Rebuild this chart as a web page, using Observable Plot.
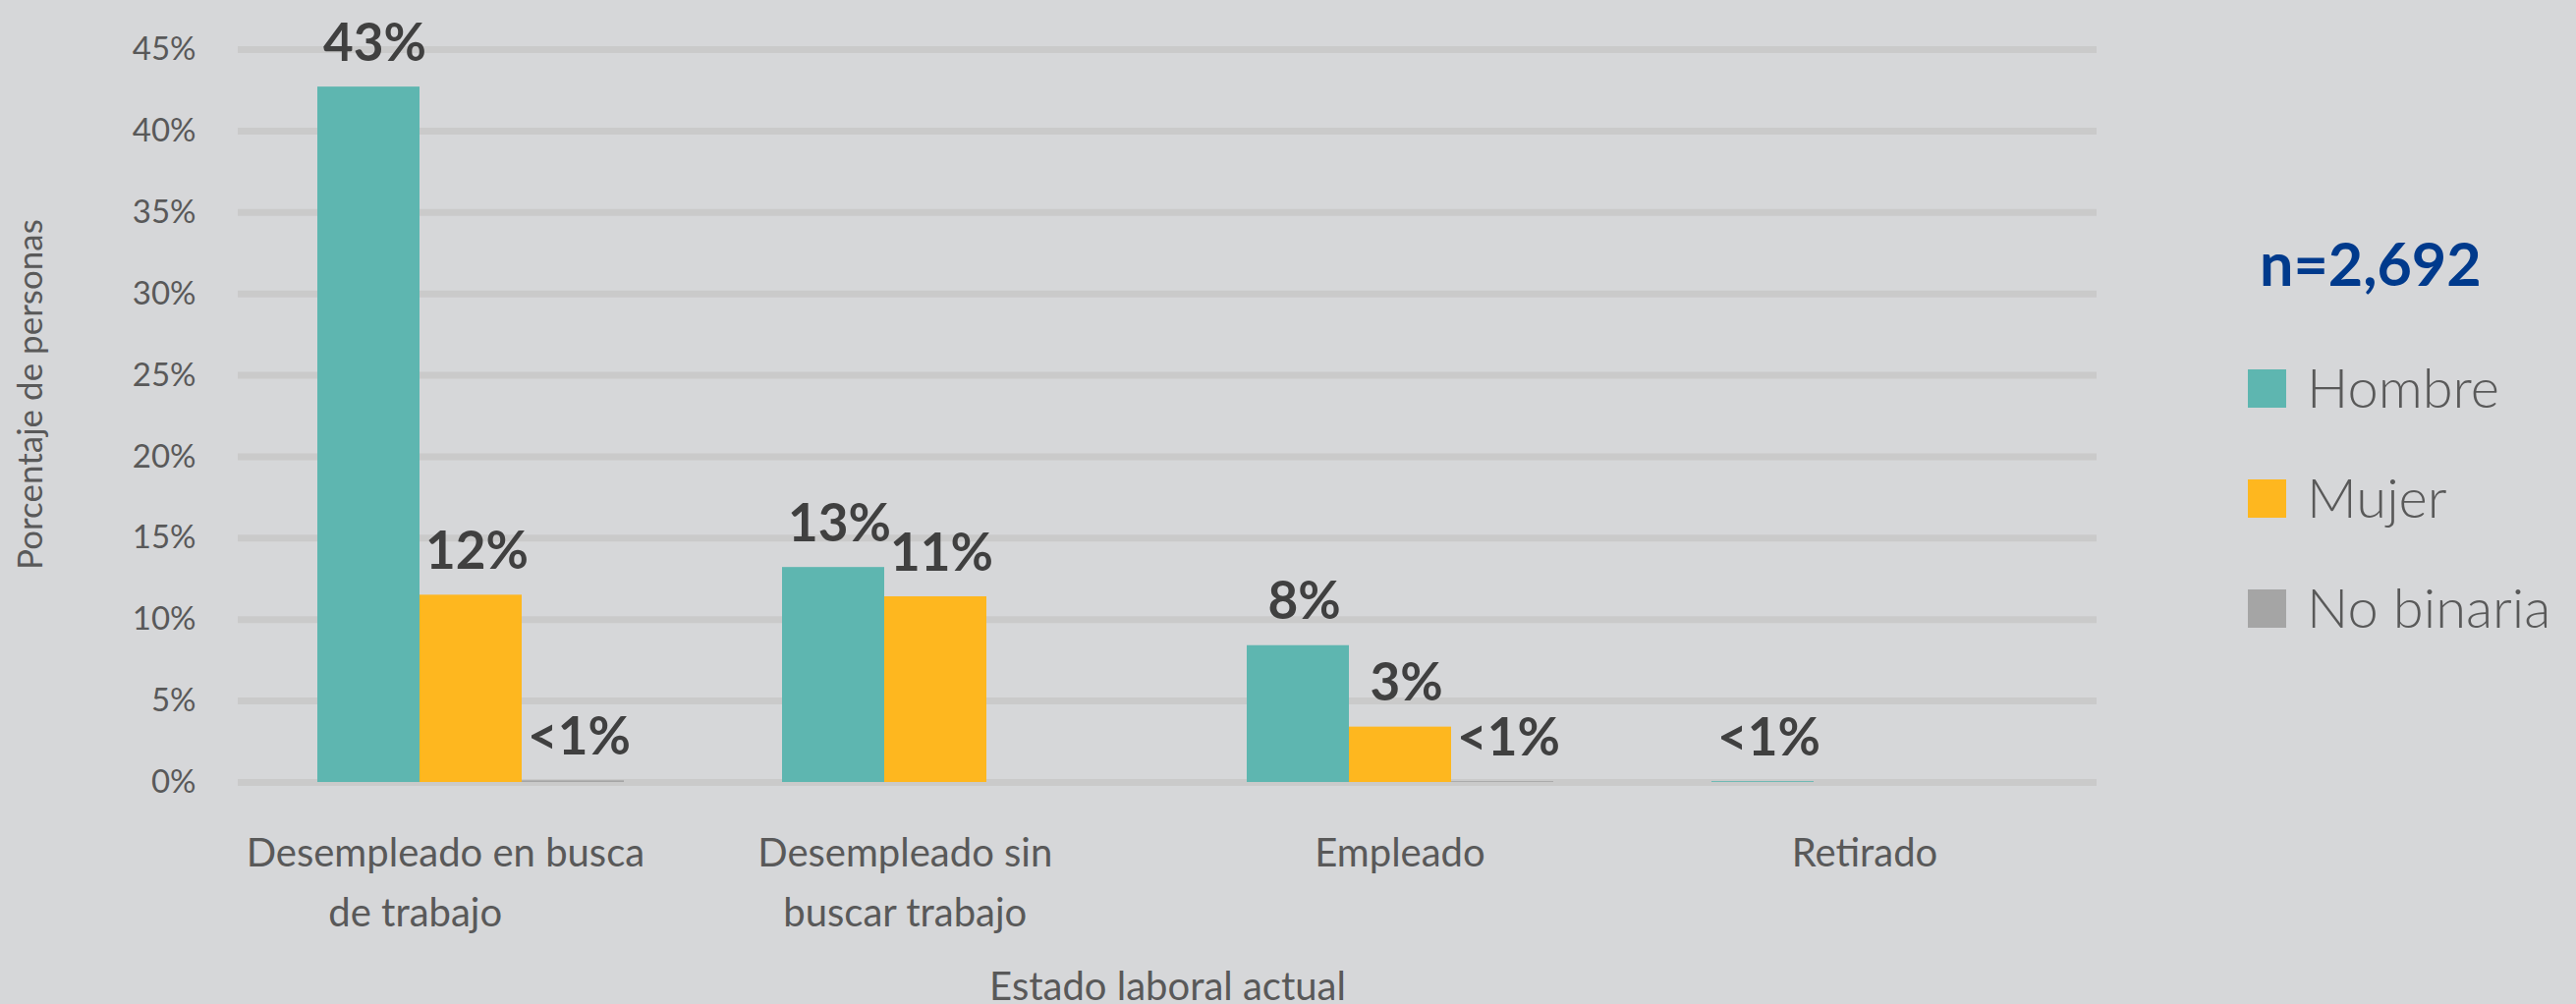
<!DOCTYPE html>
<html>
<head>
<meta charset="utf-8">
<script src="https://cdn.jsdelivr.net/npm/d3@7"></script>
<script src="https://cdn.jsdelivr.net/npm/@observablehq/plot@0.6"></script>
<style>
  html, body { margin: 0; padding: 0; background: #d6d7d9; overflow: hidden; }
  #wrap { position: relative; width: 2622px; height: 1022px; font-family: Lato, "Noto Sans", sans-serif; }
  #chart svg { display: block; }
  .n { position: absolute; left: 2300px; top: 237px; font-size: 61px; line-height: 61px; font-weight: 700; color: #003a8c; white-space: nowrap; }
  .item { position: absolute; left: 2288px; font-size: 56px; line-height: 56px; font-weight: 300; color: #595959; white-space: nowrap; }
  .sw { display: inline-block; width: 39px; height: 39px; margin-right: 21px; }
</style>
</head>
<body>
<div id="wrap"><div id="chart"></div></div>
<script>
// ---- data ----
const categories = ["Desempleado en busca de trabajo", "Desempleado sin buscar trabajo", "Empleado", "Retirado"];
// wrapped tick labels as they appear (the original labels carry trailing spaces)
const NB = "\u00a0";
const categoryLines = [
  "Desempleado en busca" + NB.repeat(5) + "\nde trabajo" + NB.repeat(11),
  "Desempleado sin" + NB.repeat(6) + "\nbuscar trabajo" + NB.repeat(6),
  "Empleado",
  "Retirado"
];
const genders = ["Hombre", "Mujer", "No binaria"];
const colors = ["#5eb6b0", "#feb71f", "#a5a5a5"];
const hombre = [42.7, 13.2, 8.4, 0.05];
const mujer = [11.5, 11.4, 3.4, 0];
const noBinaria = [0.1, 0, 0.05, 0];
const hombreLabels = ["43%", "13%", "8%", "<1%"];
const mujerLabels = ["12%", "11%", "3%", ""];
const noBinariaLabels = ["<1%", "", "<1%", ""];
const yTicks = [0, 5, 10, 15, 20, 25, 30, 35, 40, 45];
const yTitle = "Porcentaje de personas";
const xTitle = "Estado laboral actual";
const sampleLabel = "n=2,692";

const series = [hombre, mujer, noBinaria];
const labelSeries = [hombreLabels, mujerLabels, noBinariaLabels];
const data = categories.flatMap((c, i) => genders.map((g, j) => ({
  category: c, gender: g, value: series[j][i], label: labelSeries[j][i]
})));
const lineOf = new Map(categories.map((c, i) => [c, categoryLines[i]]));

const chart = Plot.plot({
  width: 2622,
  height: 1022,
  marginLeft: 242,
  marginRight: 488,
  marginTop: 50,
  marginBottom: 226,
  style: { background: "#d6d7d9", fontFamily: "Lato, 'Noto Sans', sans-serif" },
  fx: { domain: categories, padding: 0 },
  x: { domain: genders, paddingInner: 0, paddingOuter: 0.763, axis: null },
  y: { domain: [0, 45] },
  color: { domain: genders, range: colors },
  marks: [
    Plot.gridY(yTicks, { stroke: "#cacaca", strokeOpacity: 1, strokeWidth: 7 }),
    Plot.barY(data, { fx: "category", x: "gender", y: "value", fill: "gender" }),
    Plot.text(data.filter(d => d.label), {
      fx: "category", x: "gender", y: "value", text: "label",
      lineAnchor: "bottom", dy: -27, dx: 6,
      fontSize: 53, fontWeight: 700, fill: "#404040"
    }),
    Plot.axisY(yTicks, {
      tickFormat: d => d + "%", tickSize: 0, tickPadding: 43,
      fontSize: 33, fontWeight: 400, fill: "#595959", label: null
    }),
    Plot.text([yTitle], {
      frameAnchor: "left", facetAnchor: "left", rotate: -90,
      dx: -211, dy: -22, textAnchor: "middle", lineAnchor: "middle",
      fontSize: 35, fontWeight: 400, fill: "#595959"
    }),
    Plot.axisFx({
      anchor: "bottom",
      tickFormat: d => lineOf.get(d), tickSize: 0, tickPadding: 42,
      fontSize: 40, fontWeight: 400, fill: "#595959", lineHeight: 1.53,
      label: xTitle, labelAnchor: "center", labelArrow: "none", labelOffset: 221
    })
  ]
});
document.getElementById("chart").appendChild(chart);

// ---- legend ----
const wrap = document.getElementById("wrap");
const n = document.createElement("div");
n.className = "n";
n.textContent = sampleLabel;
wrap.appendChild(n);
genders.forEach((g, i) => {
  const it = document.createElement("div");
  it.className = "item";
  it.style.top = (366 + i * 112) + "px";
  const sw = document.createElement("span");
  sw.className = "sw";
  sw.style.background = colors[i];
  it.appendChild(sw);
  it.appendChild(document.createTextNode(g));
  wrap.appendChild(it);
});
</script>
</body>
</html>
